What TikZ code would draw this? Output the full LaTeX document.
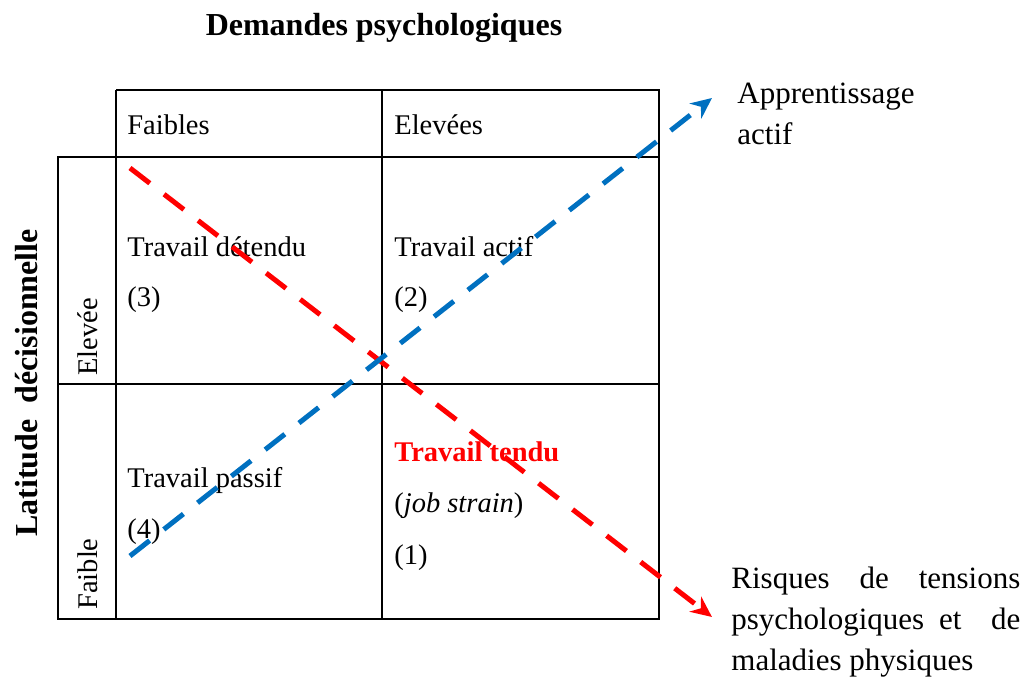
\documentclass[tikz,border=0pt]{standalone}
\usepackage{fontspec}
\setmainfont{Liberation Serif}
\usepackage{xcolor}
\usetikzlibrary{positioning}
\usetikzlibrary{arrows.meta}
\definecolor{flowblue}{RGB}{0,112,192}
\tikzset{grid line/.style={draw=black,line width=0.75pt},
	cell text/.style={anchor=base west,inner sep=0pt,font=\fontsize{14.25}{17}\selectfont},
	side label/.style={anchor=base west,inner sep=0pt,font=\fontsize{15.5}{20.5}\selectfont},
	axis title/.style={inner sep=0pt,font=\fontsize{16}{19}\selectfont\bfseries},
	dash arrow/.style={line width=2.5pt,dash pattern=on 12.5pt off 9pt,-{Stealth[length=10.5pt,width=9.5pt]}},}

\begin{document}
\begin{tikzpicture}[x=0.5pt, y=-0.5pt]
		\useasboundingbox (0,0) rectangle (1025,679);
		% table
		\draw[grid line] (116,90) -- (659,90) -- (659,619) -- (58,619) -- (58,157) -- (659,157);
		\draw[grid line] (116,90) -- (116,619);
		\draw[grid line] (382,90) -- (382,619);
		\draw[grid line] (58,384) -- (659,384);
	
		\node[axis title] (dem) at (384,28) {Demandes psychologiques};
		\node[axis title, rotate=90] (lat) at (27,383) {Latitude\ \ décisionnelle};
	
		\node[cell text] (faibles) at (127,135) {Faibles};
		\node[cell text] (elevees) at (394,135) {Elevées};
		\node[cell text, anchor=center, rotate=90] (elevee) at (88,337) {Elevée};
		\node[cell text, anchor=center, rotate=90] (faible) at (88,574) {Faible};
	
		\node[cell text] (detendu) at (127,257) {Travail détendu};
		\node[cell text] (n3) at (127,307) {(3)};
		\node[cell text] (actif) at (394,257) {Travail actif};
		\node[cell text] (n2) at (394,307) {(2)};
		\node[cell text] (passif) at (127,488) {Travail passif};
		\node[cell text] (n4) at (127,539) {(4)};
		\node[cell text, text=red, font=\fontsize{14.25}{17}\selectfont\bfseries] (tendu) at (394,462) {Travail tendu};
		\node[cell text] (strain) at (394,513) {(\textit{job strain})};
		\node[cell text] (n1) at (394,565) {(1)};
	
		\node[side label, align=left] (appr) at (737,145) {Apprentissage\\actif};
		\node[side label, text width=144.5pt, align=justify] (risk) at (731,589)
			{\hyphenpenalty=10000\relax Risques de tensions psychologiques et~ de maladies physiques};
	
		% arrows
		\coordinate (r0) at (130,168);
		\coordinate (r1) at (712,617);
		\coordinate (b0) at (130,556);
		\coordinate (b1) at (712,98);
		\draw[dash arrow, draw=red] (r0) -- (r1);
		\draw[dash arrow, draw=flowblue] (b0) -- (b1);
	\end{tikzpicture}
\end{document}
